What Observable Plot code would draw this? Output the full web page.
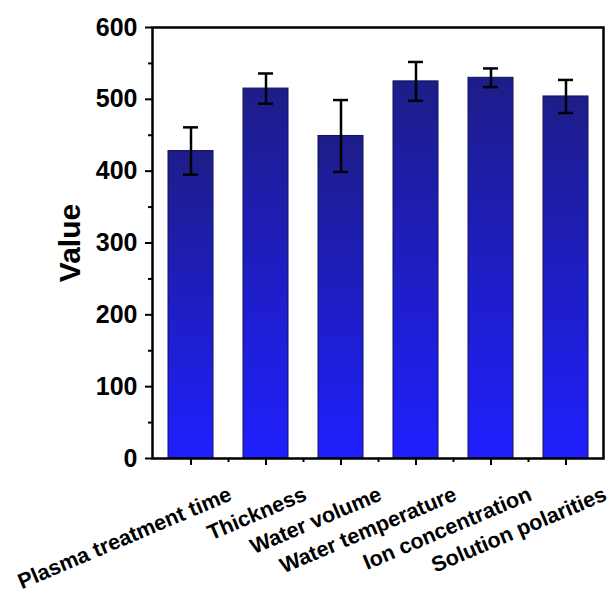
<!DOCTYPE html>
<html>
<head>
<meta charset="utf-8">
<script src="https://cdn.jsdelivr.net/npm/d3@7"></script>
<script src="https://cdn.jsdelivr.net/npm/@observablehq/plot@0.6"></script>
<style>
  html, body { margin: 0; padding: 0; background: #fff; }
  svg { display: block; }
</style>
</head>
<body>
<div id="chart"></div>
<script>
const categories = ["Plasma treatment time", "Thickness", "Water volume", "Water temperature", "Ion concentration", "Solution polarities"];
const values = [428, 515, 449, 525, 530, 504];
const errors = [33, 21, 50, 27, 13, 23];
const majorTicks = [0, 100, 200, 300, 400, 500, 600];
const minorTicks = [50, 150, 250, 350, 450, 550];

const data = categories.map((c, i) => ({cat: c, value: values[i], err: errors[i]}));
const FONT = "'Liberation Sans', Arial, sans-serif";

const gradientDefs = () => {
  const g = d3.create("svg:g");
  const lg = g.append("defs").append("linearGradient")
    .attr("id", "barGrad").attr("x1", 0).attr("y1", 0).attr("x2", 0).attr("y2", 1);
  lg.append("stop").attr("offset", "0%").attr("stop-color", "#1d1d88");
  lg.append("stop").attr("offset", "100%").attr("stop-color", "#1f1fff");
  return g.node();
};

const chart = Plot.plot({
  width: 616,
  height: 597,
  marginLeft: 152,
  marginRight: 13,
  marginTop: 27,
  marginBottom: 139,
  style: {fontFamily: FONT, background: "#fff"},
  x: {domain: categories, paddingInner: 0.4, paddingOuter: 0.2, axis: null},
  y: {domain: [0, 600], axis: null},
  marks: [
    gradientDefs,
    Plot.barY(data, {x: "cat", y: "value", fill: "url(#barGrad)", stroke: "#12125a", strokeWidth: 1}),
    Plot.ruleX(data, {x: "cat", y1: d => d.value - d.err, y2: d => d.value + d.err, stroke: "black", strokeWidth: 2.5}),
    Plot.tickY(data, {x: "cat", y: d => d.value + d.err, insetLeft: 15, insetRight: 15, stroke: "black", strokeWidth: 2.5}),
    Plot.tickY(data, {x: "cat", y: d => d.value - d.err, insetLeft: 15, insetRight: 15, stroke: "black", strokeWidth: 2.5}),
    Plot.axisY({ticks: majorTicks, tickSize: 7, tickPadding: 8, tickFormat: d => String(d), fontSize: 25, fontWeight: "bold", fill: "black", strokeWidth: 2, label: null}),
    Plot.axisY({ticks: minorTicks, tickSize: 4, text: null, strokeWidth: 2, label: null}),
    Plot.axisX({ticks: categories, tickSize: 7, text: null, strokeWidth: 2, label: null}),
    Plot.axisX({ticks: categories.slice(0, -1), tickSize: 4, dx: 37.5, text: null, strokeWidth: 2, label: null}),
    Plot.frame({stroke: "black", strokeWidth: 2.5}),
    Plot.text(categories, {x: d => d, frameAnchor: "bottom", dx: 42, dy: 41, rotate: -23, textAnchor: "end", lineAnchor: "bottom", fontSize: 21.5, fontWeight: "bold", fill: "black"}),
    Plot.text(["Value"], {frameAnchor: "left", dx: -82, rotate: -90, textAnchor: "middle", fontSize: 30, fontWeight: "bold", fill: "black"})
  ]
});
document.getElementById("chart").appendChild(chart);
</script>
</body>
</html>
